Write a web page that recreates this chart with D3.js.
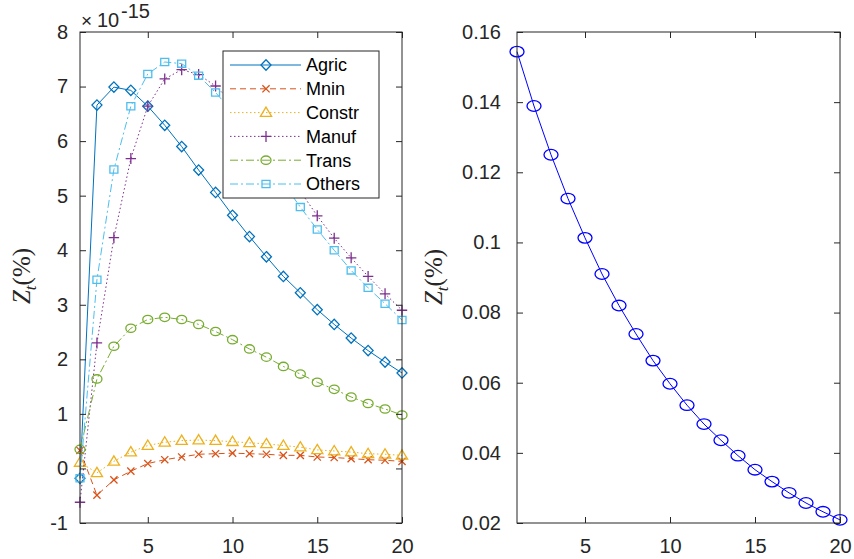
<!DOCTYPE html>
<html>
<head>
<meta charset="utf-8">
<script src="https://cdn.jsdelivr.net/npm/d3@7"></script>
<style>
  html, body { margin: 0; padding: 0; background: #ffffff; }
  svg { display: block; }
</style>
</head>
<body>
<svg id="chart" width="854" height="559"></svg>
<script>
// ---------------- data ----------------
const periods = [1,2,3,4,5,6,7,8,9,10,11,12,13,14,15,16,17,18,19,20];

const seriesNames = ["Agric", "Mnin", "Constr", "Manuf", "Trans", "Others"];

// left panel values (in units of 1e-15)
const agric  = [-0.18, 6.66, 6.99, 6.93, 6.64, 6.29, 5.90, 5.47, 5.06, 4.64, 4.25, 3.88, 3.52, 3.22, 2.91, 2.64, 2.39, 2.16, 1.95, 1.75];
const mnin   = [0.33, -0.49, -0.21, -0.05, 0.09, 0.16, 0.21, 0.26, 0.27, 0.28, 0.27, 0.26, 0.24, 0.24, 0.21, 0.20, 0.18, 0.16, 0.15, 0.13];
const constr = [0.11, -0.08, 0.13, 0.30, 0.42, 0.48, 0.51, 0.52, 0.51, 0.49, 0.47, 0.45, 0.42, 0.39, 0.34, 0.32, 0.30, 0.27, 0.26, 0.24];
const manuf  = [-0.62, 2.30, 4.23, 5.68, 6.64, 7.14, 7.31, 7.22, 7.01, 6.70, 6.32, 5.92, 5.50, 5.08, 4.63, 4.22, 3.86, 3.52, 3.20, 2.90];
const trans  = [0.35, 1.64, 2.24, 2.57, 2.73, 2.77, 2.73, 2.64, 2.51, 2.36, 2.19, 2.04, 1.87, 1.73, 1.58, 1.45, 1.31, 1.19, 1.09, 0.98];
const others = [-0.18, 3.46, 5.48, 6.64, 7.23, 7.45, 7.42, 7.20, 6.89, 6.54, 6.12, 5.68, 5.23, 4.79, 4.38, 4.00, 3.63, 3.31, 3.02, 2.72];

// right panel values
const zTotal = [0.1544, 0.1389, 0.1250, 0.1125, 0.1013, 0.0910, 0.0820, 0.0739, 0.0663, 0.0597, 0.0536, 0.0482, 0.0436, 0.0392, 0.0352, 0.0318, 0.0286, 0.0257, 0.0232, 0.0209];

const xTickValues = [5, 10, 15, 20];
const leftYTickValues = [-1, 0, 1, 2, 3, 4, 5, 6, 7, 8];
const rightYTickValues = [0.02, 0.04, 0.06, 0.08, 0.1, 0.12, 0.14, 0.16];
const exponentLabel = "-15";

// ---------------- styles ----------------
const colors = ["#0072BD", "#D95319", "#EDB120", "#7E2F8E", "#77AC30", "#4DBEEE"];
const dashes = [null, "6,4", "1.5,2.5", "1.5,2.5", "8,3,2,3", "8,3,2,3"];
const markers = ["diamond", "x", "triangle", "plus", "circle", "square"];
const allSeries = [agric, mnin, constr, manuf, trans, others];

const svg = d3.select("#chart");
const AX = "#262626";
const SANS = "'Liberation Sans', Arial, Helvetica, sans-serif";
const SERIF = "'Liberation Serif', 'DejaVu Serif', 'Times New Roman', serif";
const tickFont = 20;

function markerPath(type) {
  switch (type) {
    case "diamond": return "M0,-5.2L5,0L0,5.2L-5,0Z";
    case "x": return "M-3.6,-3.6L3.6,3.6M-3.6,3.6L3.6,-3.6";
    case "triangle": return "M0,-5.5L5.6,3.8L-5.6,3.8Z";
    case "plus": return "M-5.2,0H5.2M0,-5.5V5.5";
    case "square": return "M-4,-3.6H4V3.6H-4Z";
  }
  return null;
}

function drawMarker(g, type, color, cx, cy, rx, ry) {
  if (type === "circle") {
    g.append("ellipse").attr("cx", cx).attr("cy", cy)
      .attr("rx", rx || 5).attr("ry", ry || 4.2)
      .attr("fill", "none").attr("stroke", color).attr("stroke-width", 1.3);
  } else {
    g.append("path").attr("d", markerPath(type))
      .attr("transform", `translate(${cx},${cy})`)
      .attr("fill", "none").attr("stroke", color).attr("stroke-width", 1.3);
  }
}

function drawFrame(x, y, yTicks, yFmt, yPad) {
  const [x0, x1] = x.range();
  const [y0, y1] = y.range();
  const g = svg.append("g");
  const bottom = g.append("g").attr("transform", `translate(0,${y0})`)
    .call(d3.axisBottom(x).tickValues(xTickValues).tickSizeInner(-6).tickSizeOuter(0).tickPadding(16).tickFormat(d3.format("d")));
  const top = g.append("g").attr("transform", `translate(0,${y1})`)
    .call(d3.axisTop(x).tickValues(xTickValues).tickSizeInner(-6).tickSizeOuter(0).tickFormat(""));
  const left = g.append("g").attr("transform", `translate(${x0},0)`)
    .call(d3.axisLeft(y).tickValues(yTicks).tickSizeInner(-6).tickSizeOuter(0).tickPadding(yPad).tickFormat(yFmt));
  const right = g.append("g").attr("transform", `translate(${x1},0)`)
    .call(d3.axisRight(y).tickValues(yTicks).tickSizeInner(-6).tickSizeOuter(0).tickFormat(""));
  [bottom, top, left, right].forEach(a => {
    a.select(".domain").remove();
    a.selectAll(".tick line").attr("stroke", AX).attr("stroke-width", 1);
    a.selectAll("text").style("font-size", tickFont + "px").style("fill", AX)
      .style("font-family", SANS);
  });
  g.append("rect").attr("x", x0).attr("y", y1).attr("width", x1 - x0).attr("height", y0 - y1)
    .attr("fill", "none").attr("stroke", AX).attr("stroke-width", 1);
  return g;
}

function yLabel(cx, cy) {
  const t = svg.append("text")
    .attr("transform", `translate(${cx},${cy}) rotate(-90)`)
    .attr("text-anchor", "middle")
    .style("font-family", SERIF)
    .style("font-size", "25px").style("fill", AX);
  t.append("tspan").style("font-style", "italic").text("Z");
  t.append("tspan").style("font-style", "italic").style("font-size", "17px").attr("dy", 6).text("t");
  t.append("tspan").attr("dy", -6).text("(%)");
}

// ---------------- left panel ----------------
const xL = d3.scaleLinear().domain([1, 20]).range([80, 402]);
const yL = d3.scaleLinear().domain([-1, 8]).range([523, 32]);

const plotL = svg.append("g");
allSeries.forEach((vals, i) => {
  const line = d3.line().x((d, j) => xL(periods[j])).y(d => yL(d));
  plotL.append("path").datum(vals).attr("d", line)
    .attr("fill", "none").attr("stroke", colors[i]).attr("stroke-width", 1)
    .attr("stroke-dasharray", dashes[i]);
  vals.forEach((v, j) => drawMarker(plotL, markers[i], colors[i], xL(periods[j]), yL(v)));
});

drawFrame(xL, yL, leftYTickValues, d => String(d), 12);

// exponent label
const expT = svg.append("text").attr("y", 27)
  .style("font-family", SANS).style("fill", AX).style("font-size", "20px");
expT.append("tspan").attr("x", 81).style("font-size", "19px").text("\u00D7");
expT.append("tspan").attr("x", 97).style("font-size", "20px").text("10");
expT.append("tspan").attr("x", 121).attr("dy", -9).style("font-size", "20px").text(exponentLabel);

yLabel(30, 276);

// legend
const lg = svg.append("g");
lg.append("rect").attr("x", 223).attr("y", 51).attr("width", 156).attr("height", 147)
  .attr("fill", "#ffffff").attr("stroke", AX).attr("stroke-width", 1);
seriesNames.forEach((name, i) => {
  const yy = 65 + i * 23.8;
  lg.append("line").attr("x1", 230).attr("x2", 301).attr("y1", yy).attr("y2", yy)
    .attr("stroke", colors[i]).attr("stroke-width", 1).attr("stroke-dasharray", dashes[i]);
  drawMarker(lg, markers[i], colors[i], 266, yy);
  lg.append("text").attr("x", 306).attr("y", yy).attr("dy", "0.36em")
    .style("font-family", SANS).style("font-size", "18px").style("fill", "#000").text(name);
});

// ---------------- right panel ----------------
const xR = d3.scaleLinear().domain([1, 20]).range([517, 840]);
const yR = d3.scaleLinear().domain([0.02, 0.16]).range([523, 32]);

const plotR = svg.append("g");
plotR.append("path").datum(zTotal)
  .attr("d", d3.line().x((d, j) => xR(periods[j])).y(d => yR(d)))
  .attr("fill", "none").attr("stroke", "#0000FF").attr("stroke-width", 1);
zTotal.forEach((v, j) => drawMarker(plotR, "circle", "#0000FF", xR(periods[j]), yR(v), 7, 5.3));

drawFrame(xR, yR, rightYTickValues, d => String(+d.toFixed(2)), 16);
yLabel(442, 277);
</script>
</body>
</html>
